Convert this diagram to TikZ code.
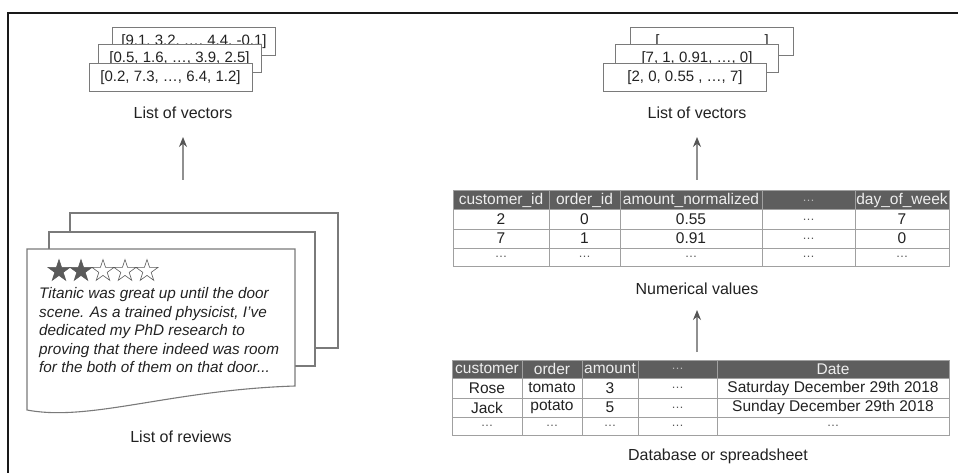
\documentclass[tikz,border=0pt]{standalone}
\usepackage{fontspec}
\setmainfont{Liberation Sans}
\usetikzlibrary{arrows.meta,shapes.geometric}
\definecolor{boxgray}{HTML}{7A7A7A}
\definecolor{txt}{HTML}{222222}
\definecolor{hdr}{HTML}{5E5E5E}
\definecolor{hdrtxt}{HTML}{EEEEEE}
\definecolor{gridc}{HTML}{A0A0A0}
\definecolor{linegray}{HTML}{909090}
\definecolor{headgray}{HTML}{555555}
\definecolor{stargray}{HTML}{5A5A5A}
\definecolor{dotgray}{HTML}{555555}
\definecolor{hdrdot}{HTML}{BBBBBB}
\newcommand\celldots{{\color{dotgray}\fontsize{12.5}{13}\selectfont …}}
\newcommand\hdrdots{{\color{hdrdot}\fontsize{12.5}{13}\selectfont …}}
\tikzset{
  vbox/.style={draw=boxgray, fill=white, line width=1pt, minimum width=163pt,
    minimum height=28pt, inner sep=0pt, text=txt, font=\fontsize{15}{18}\selectfont},
  lbl/.style={text=txt, inner sep=0pt, font=\fontsize{16}{19}\selectfont},
  conn/.style={draw=linegray, line width=1.2pt, -{Stealth[length=10pt,width=8pt,color=headgray]}},
  page/.style={draw=boxgray, fill=white, line width=1.1pt},
  gridl/.style={draw=gridc, line width=1pt},
  cell/.style={text=txt, inner sep=0pt, font=\fontsize{15.5}{18}\selectfont},
  hcell/.style={text=hdrtxt, inner sep=0pt, font=\fontsize{15.5}{18}\selectfont},
  rev/.style={text=txt, inner sep=0pt, anchor=base west, font=\fontsize{15.3}{18}\selectfont\itshape},
  starf/.style={star, star points=5, star point ratio=2.6, minimum size=23pt, inner sep=0pt, fill=stargray, draw=stargray, line width=0.6pt},
  staro/.style={star, star points=5, star point ratio=2.6, minimum size=23pt, inner sep=0pt, draw=stargray, line width=0.6pt},
  frameline/.style={draw=black!90, line width=1.5pt}
}
\begin{document}
\begin{tikzpicture}[x=1pt,y=-1pt]
\useasboundingbox (0,0) rectangle (958,473);
\fill[white] (0,0) rectangle (958,473);
\draw[frameline] (958,13) -- (8,13) -- (8,473);

% left vectors
\node[vbox] (lvb) at (194,41.5) {\raisebox{-2pt}{[9.1, 3.2, …, 4.4, -0.1]}};
\node[vbox] (lvm) at (179.5,59) {[0.5, 1.6, …, 3.9, 2.5]};
\node[vbox] (lvf) at (170.5,77.5) {[0.2, 7.3, …, 6.4, 1.2]};
\node[lbl] (lvl) at (183,113) {List of vectors};

% right vectors
\node[vbox] (rvb) at (712,41.5) {\raisebox{-2pt}{[\hspace{105pt}]}};
\node[vbox] (rvm) at (697,59) {[7, 1, 0.91, …, 0]};
\node[vbox] (rvf) at (685,77.5) {[2, 0, 0.55 , …, 7]};
\node[lbl] (rvl) at (697,113) {List of vectors};

% arrows
\coordinate (a1s) at (183,180); \coordinate (a1e) at (183,137);
\draw[conn] (a1s) -- (a1e);
\coordinate (a2s) at (697,180); \coordinate (a2e) at (697,137);
\draw[conn] (a2s) -- (a2e);
\coordinate (a3s) at (697,352); \coordinate (a3e) at (697,310);
\draw[conn] (a3s) -- (a3e);

% reviews
\draw[page] (70,213) rectangle (338,348);
\draw[page] (49,232) rectangle (315,366);
\draw[page] (27,249) -- (295,249) -- (295,386) .. controls (170,390) and (90,422) .. (27,410) -- cycle;
\node[starf] (s1) at (59,271) {};
\node[starf] (s2) at (81,271) {};
\node[staro] (s3) at (103,271) {};
\node[staro] (s4) at (125,271) {};
\node[staro] (s5) at (147,271) {};
\node[rev] (r1) at (39,298.5) {Titanic was great up until the door};
\node[rev] (r2) at (39,317) {scene. As a trained physicist, I’ve};
\node[rev] (r3) at (39,335.5) {dedicated my PhD research to};
\node[rev] (r4) at (39,354) {proving that there indeed was room};
\node[rev] (r5) at (39,372.5) {for the both of them on that door...};
\node[lbl] (rl) at (181,437) {List of reviews};

% numerical table
\fill[hdr] (453,191) rectangle (949,210);
\draw[gridl] (453,191) rectangle (949,266);
\foreach \yy in {210,229,248} \draw[gridl] (453,\yy) -- (949,\yy);
\foreach \xx in {549,620,762,855} \draw[gridl] (\xx,191) -- (\xx,266);
\foreach \xx/\t [count=\i] in {501/customer\_id,584.5/order\_id,691/amount\_normalized,808.5/\hdrdots,902/day\_of\_week}
  \node[hcell] (nh\i) at (\xx,200.5) {\t};
\foreach \xx/\t [count=\i] in {501/2,584.5/0,691/0.55,808.5/\celldots,902/7}
  \node[cell] (na\i) at (\xx,219.5) {\t};
\foreach \xx/\t [count=\i] in {501/7,584.5/1,691/0.91,808.5/\celldots,902/0}
  \node[cell] (nb\i) at (\xx,238.5) {\t};
\foreach \xx [count=\i] in {501,584.5,691,808.5,902}
  \node[cell] (nc\i) at (\xx,257) {\celldots};
\node[lbl] (nvl) at (697,289) {Numerical values};

% database table
\fill[hdr] (452,360) rectangle (949,378);
\draw[gridl] (452,360) rectangle (949,435);
\foreach \yy in {378,398,417} \draw[gridl] (452,\yy) -- (949,\yy);
\foreach \xx in {522,582,638,717} \draw[gridl] (\xx,360) -- (\xx,435);
\foreach \xx/\t [count=\i] in {487/customer,552/order,610/amount,677.5/\hdrdots,833/Date}
  \node[hcell] (dh\i) at (\xx,369) {\t};
\foreach \xx/\t [count=\i] in {487/Rose,552/tomato,610/3,677.5/\celldots,833/Saturday December 29th 2018}
  \node[cell] (da\i) at (\xx,388) {\t};
\foreach \xx/\t [count=\i] in {487/Jack,552/potato,610/5,677.5/\celldots,833/Sunday December 29th 2018}
  \node[cell] (db\i) at (\xx,407.5) {\t};
\foreach \xx [count=\i] in {487,552,610,677.5,833}
  \node[cell] (dc\i) at (\xx,426) {\celldots};
\node[lbl] (dbl) at (718,456) {Database or spreadsheet};
\end{tikzpicture}
\end{document}
